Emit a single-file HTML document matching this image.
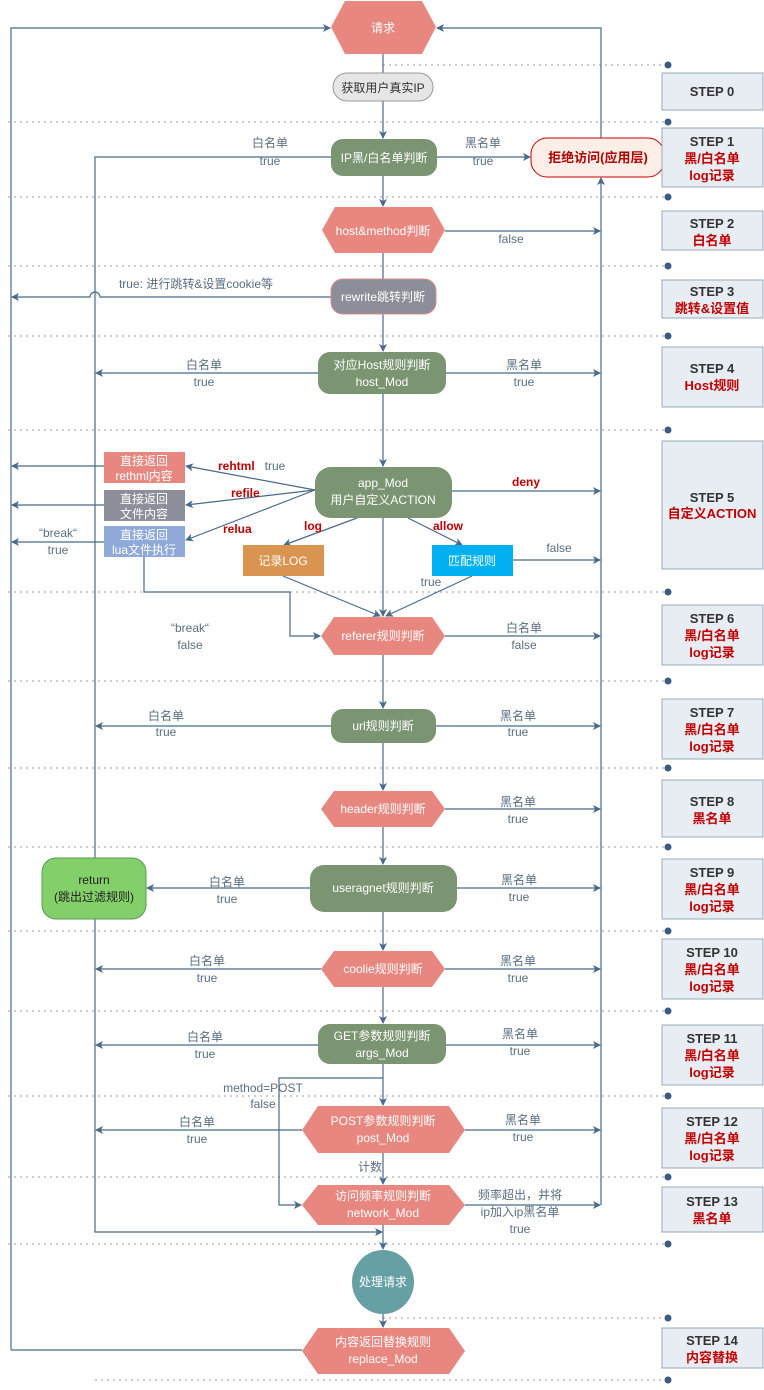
<!DOCTYPE html>
<html><head><meta charset="utf-8"><style>
html,body{margin:0;padding:0;background:#fff}
svg{display:block;font-family:"Liberation Sans","Noto Sans CJK SC",sans-serif}
.l{fill:#5a6e80;font-size:12px;text-anchor:middle}
.w{fill:#fff;font-size:12px;text-anchor:middle}
.r{fill:#c00000;font-size:12px;font-weight:bold}
.sh{fill:#333;font-size:13px;font-weight:bold;text-anchor:middle}
.sr{fill:#c00000;font-size:13px;font-weight:bold;text-anchor:middle}
</style></head><body>
<svg width="764" height="1390" viewBox="0 0 764 1390" xmlns="http://www.w3.org/2000/svg">
<defs><marker id="a" markerWidth="8" markerHeight="8" refX="7" refY="4" orient="auto" markerUnits="userSpaceOnUse"><path d="M0,0 L8,4 L0,8 L2,4 z" fill="#4a6a8a"/></marker></defs>
<g stroke="#99a" stroke-dasharray="2,4" stroke-width="1">
<line x1="383" y1="65" x2="668" y2="65"/><line x1="8" y1="122" x2="668" y2="122"/>
<line x1="8" y1="197" x2="668" y2="197"/><line x1="8" y1="266" x2="668" y2="266"/>
<line x1="8" y1="336" x2="668" y2="336"/><line x1="8" y1="430" x2="668" y2="430"/>
<line x1="8" y1="592" x2="668" y2="592"/><line x1="8" y1="681" x2="668" y2="681"/>
<line x1="8" y1="768" x2="668" y2="768"/><line x1="8" y1="847" x2="668" y2="847"/>
<line x1="8" y1="931" x2="668" y2="931"/><line x1="8" y1="1011" x2="668" y2="1011"/>
<line x1="8" y1="1096" x2="668" y2="1096"/><line x1="8" y1="1177" x2="668" y2="1177"/>
<line x1="8" y1="1244" x2="668" y2="1244"/><line x1="383" y1="1318" x2="668" y2="1318"/>
<line x1="95" y1="1380" x2="668" y2="1380"/>
</g>
<g fill="#3d5a80">
<circle cx="668" cy="65" r="3.5"/><circle cx="668" cy="122" r="3.5"/><circle cx="668" cy="197" r="3.5"/><circle cx="668" cy="266" r="3.5"/><circle cx="668" cy="336" r="3.5"/><circle cx="668" cy="430" r="3.5"/><circle cx="668" cy="592" r="3.5"/><circle cx="668" cy="681" r="3.5"/><circle cx="668" cy="768" r="3.5"/><circle cx="668" cy="847" r="3.5"/><circle cx="668" cy="931" r="3.5"/><circle cx="668" cy="1011" r="3.5"/><circle cx="668" cy="1096" r="3.5"/><circle cx="668" cy="1177" r="3.5"/><circle cx="668" cy="1244" r="3.5"/><circle cx="668" cy="1318" r="3.5"/><circle cx="668" cy="1380" r="3.5"/>
</g>
<g stroke="#4a6a8a" stroke-width="1.2" fill="none">
<path d="M11,1350 L11,28 L330,28" marker-end="url(#a)"/>
<path d="M601,138 L601,28 L437,28" marker-end="url(#a)"/>
<path d="M601,1205 L601,178" marker-end="url(#a)"/>
<path d="M383,54 L383,73"/><path d="M383,101 L383,138" marker-end="url(#a)"/>
<path d="M383,176 L383,206" marker-end="url(#a)"/><path d="M383,253 L383,279"/>
<path d="M383,314 L383,351" marker-end="url(#a)"/><path d="M383,394 L383,466" marker-end="url(#a)"/>
<path d="M383,518 L383,616" marker-end="url(#a)"/><path d="M383,655 L383,708" marker-end="url(#a)"/>
<path d="M383,743 L383,790" marker-end="url(#a)"/><path d="M383,827 L383,864" marker-end="url(#a)"/>
<path d="M383,912 L383,950" marker-end="url(#a)"/><path d="M383,987 L383,1023" marker-end="url(#a)"/>
<path d="M383,1064 L383,1105" marker-end="url(#a)"/><path d="M383,1153 L383,1184" marker-end="url(#a)"/>
<path d="M383,1225 L383,1249" marker-end="url(#a)"/><path d="M383,1313 L383,1327" marker-end="url(#a)"/>
<path d="M331,157 L95,157 L95,1232 L382,1232" marker-end="url(#a)"/>
<path d="M437,157 L530,157" marker-end="url(#a)"/>
<path d="M445,231 L600,231" marker-end="url(#a)"/>
<path d="M331,297 L100,297 A5,5 0 0 0 90,297 L12,297" marker-end="url(#a)"/>
<path d="M318,373 L96,373" marker-end="url(#a)"/><path d="M446,373 L600,373" marker-end="url(#a)"/>
<path d="M315,490 L186,466" marker-end="url(#a)"/><path d="M315,490 L186,505" marker-end="url(#a)"/>
<path d="M315,490 L186,540" marker-end="url(#a)"/><path d="M452,491 L600,491" marker-end="url(#a)"/>
<path d="M357,518 L284,545" marker-end="url(#a)"/><path d="M408,518 L462,545" marker-end="url(#a)"/>
<path d="M104,466 L12,466" marker-end="url(#a)"/><path d="M104,505 L12,505" marker-end="url(#a)"/>
<path d="M104,542 L12,542" marker-end="url(#a)"/>
<path d="M144,557 L144,592 L290,592 L290,636 L320,636" marker-end="url(#a)"/>
<path d="M283,576 L380,616" marker-end="url(#a)"/><path d="M472,576 L386,616" marker-end="url(#a)"/>
<path d="M513,560 L600,560" marker-end="url(#a)"/>
<path d="M445,636 L600,636" marker-end="url(#a)"/>
<path d="M331,726 L96,726" marker-end="url(#a)"/><path d="M436,726 L600,726" marker-end="url(#a)"/>
<path d="M445,809 L600,809" marker-end="url(#a)"/>
<path d="M310,888 L147,888" marker-end="url(#a)"/><path d="M457,888 L600,888" marker-end="url(#a)"/>
<path d="M321,969 L96,969" marker-end="url(#a)"/><path d="M445,969 L600,969" marker-end="url(#a)"/>
<path d="M318,1045 L96,1045" marker-end="url(#a)"/><path d="M446,1045 L600,1045" marker-end="url(#a)"/>
<path d="M383,1078 L279,1078 L279,1205 L301,1205" marker-end="url(#a)"/>
<path d="M302,1130 L96,1130" marker-end="url(#a)"/><path d="M465,1130 L600,1130" marker-end="url(#a)"/>
<path d="M465,1205 L600,1205" marker-end="url(#a)"/>
<path d="M302,1350 L11,1350"/>
</g>
<!-- nodes -->
<polygon points="331,27 345,1 422,1 436,27 422,54 345,54" fill="#e8877f"/>
<text class="w" x="383" y="32" font-size="13">请求</text>
<rect x="333" y="73" width="100" height="28" rx="14" fill="#e6e6e6" stroke="#999"/>
<text x="383" y="92" font-size="12" text-anchor="middle" fill="#333">获取用户真实IP</text>
<rect x="331" y="139" width="106" height="37" rx="12" fill="#7b9471"/>
<text class="w" x="384" y="162">IP黑/白名单判断</text>
<rect x="531" y="138" width="133" height="39" rx="16" fill="#fdeee8" stroke="#c00"/>
<text x="598" y="162" font-size="13" font-weight="bold" fill="#b00000" text-anchor="middle">拒绝访问(应用层)</text>
<polygon points="322,230 335,207 432,207 445,230 432,253 335,253" fill="#e8877f"/>
<text class="w" x="383" y="235">host&amp;method判断</text>
<rect x="331" y="279" width="105" height="35" rx="12" fill="#8c8f99" stroke="#d88"/>
<text class="w" x="383" y="301">rewrite跳转判断</text>
<rect x="318" y="352" width="128" height="42" rx="12" fill="#7b9471"/>
<text class="w" x="382" y="369">对应Host规则判断</text><text class="w" x="382" y="386">host_Mod</text>
<rect x="315" y="467" width="137" height="51" rx="16" fill="#7b9471"/>
<text class="w" x="383" y="487">app_Mod</text><text class="w" x="383" y="504">用户自定义ACTION</text>
<rect x="104" y="452" width="81" height="31" fill="#e8877f"/>
<text class="w" x="144" y="465">直接返回</text><text class="w" x="144" y="480">rethml内容</text>
<rect x="104" y="490" width="81" height="31" fill="#8c8f99"/>
<text class="w" x="144" y="503">直接返回</text><text class="w" x="144" y="518">文件内容</text>
<rect x="104" y="526" width="81" height="31" fill="#8fa9d8"/>
<text class="w" x="144" y="539">直接返回</text><text class="w" x="144" y="554">lua文件执行</text>
<rect x="243" y="545" width="81" height="31" fill="#d9944f"/>
<text class="w" x="283" y="565">记录LOG</text>
<rect x="432" y="545" width="81" height="31" fill="#00b0f0"/>
<text class="w" x="472" y="565">匹配规则</text>
<polygon points="321,636 334,617 432,617 445,636 432,655 334,655" fill="#e8877f"/>
<text class="w" x="383" y="640">referer规则判断</text>
<rect x="331" y="709" width="105" height="34" rx="12" fill="#7b9471"/>
<text class="w" x="383" y="730">url规则判断</text>
<polygon points="321,809 334,791 432,791 445,809 432,827 334,827" fill="#e8877f"/>
<text class="w" x="383" y="813">header规则判断</text>
<rect x="42" y="858" width="104" height="61" rx="14" fill="#83d06a" stroke="#5b9a55"/>
<text x="94" y="884" font-size="12" text-anchor="middle" fill="#222">return</text>
<text x="94" y="901" font-size="12" text-anchor="middle" fill="#222">(跳出过滤规则)</text>
<rect x="310" y="865" width="147" height="47" rx="14" fill="#7b9471"/>
<text class="w" x="383" y="892">useragnet规则判断</text>
<polygon points="321,969 334,951 432,951 445,969 432,987 334,987" fill="#e8877f"/>
<text class="w" x="383" y="973">coolie规则判断</text>
<rect x="318" y="1024" width="128" height="40" rx="12" fill="#7b9471"/>
<text class="w" x="382" y="1040">GET参数规则判断</text><text class="w" x="382" y="1057">args_Mod</text>
<polygon points="302,1130 318,1106 449,1106 465,1130 449,1153 318,1153" fill="#e8877f"/>
<text class="w" x="383" y="1125">POST参数规则判断</text><text class="w" x="383" y="1142">post_Mod</text>
<polygon points="302,1205 318,1185 449,1185 465,1205 449,1225 318,1225" fill="#e8877f"/>
<text class="w" x="383" y="1200">访问频率规则判断</text><text class="w" x="383" y="1217">network_Mod</text>
<ellipse cx="383" cy="1282" rx="31" ry="32" fill="#66a0a4"/>
<text class="w" x="383" y="1286">处理请求</text>
<polygon points="302,1351 318,1328 449,1328 465,1351 449,1374 318,1374" fill="#e8877f"/>
<text class="w" x="383" y="1346">内容返回替换规则</text><text class="w" x="383" y="1363">replace_Mod</text>
<!-- labels -->
<text class="l" x="270" y="147">白名单</text><text class="l" x="270" y="165">true</text>
<text class="l" x="483" y="147">黑名单</text><text class="l" x="483" y="165">true</text>
<text class="l" x="511" y="243">false</text>
<text class="l" x="196" y="288">true: 进行跳转&amp;设置cookie等</text>
<text class="l" x="204" y="369">白名单</text><text class="l" x="204" y="386">true</text>
<text class="l" x="524" y="369">黑名单</text><text class="l" x="524" y="386">true</text>
<text class="r" x="218" y="470">rehtml</text><text class="l" x="275" y="470">true</text>
<text class="r" x="231" y="497">refile</text>
<text class="r" x="223" y="533">relua</text>
<text class="r" x="512" y="486">deny</text>
<text class="r" x="304" y="530">log</text><text class="r" x="433" y="530">allow</text>
<text class="l" x="58" y="537">“break“</text><text class="l" x="58" y="554">true</text>
<text class="l" x="559" y="552">false</text><text class="l" x="431" y="586">true</text>
<text class="l" x="190" y="632">“break“</text><text class="l" x="190" y="649">false</text>
<text class="l" x="524" y="632">白名单</text><text class="l" x="524" y="649">false</text>
<text class="l" x="166" y="720">白名单</text><text class="l" x="166" y="736">true</text>
<text class="l" x="518" y="720">黑名单</text><text class="l" x="518" y="736">true</text>
<text class="l" x="518" y="806">黑名单</text><text class="l" x="518" y="823">true</text>
<text class="l" x="227" y="886">白名单</text><text class="l" x="227" y="903">true</text>
<text class="l" x="519" y="884">黑名单</text><text class="l" x="519" y="901">true</text>
<text class="l" x="207" y="965">白名单</text><text class="l" x="207" y="982">true</text>
<text class="l" x="518" y="965">黑名单</text><text class="l" x="518" y="982">true</text>
<text class="l" x="205" y="1041">白名单</text><text class="l" x="205" y="1058">true</text>
<text class="l" x="520" y="1038">黑名单</text><text class="l" x="520" y="1055">true</text>
<text class="l" x="263" y="1092">method=POST</text><text class="l" x="263" y="1108">false</text>
<text class="l" x="197" y="1126">白名单</text><text class="l" x="197" y="1143">true</text>
<text class="l" x="523" y="1124">黑名单</text><text class="l" x="523" y="1141">true</text>
<text class="l" x="370" y="1171">计数</text>
<text class="l" x="520" y="1199">频率超出，并将</text><text class="l" x="520" y="1216">ip加入ip黑名单</text><text class="l" x="520" y="1233">true</text>
<!-- steps -->
<g fill="#e8edf3" stroke="#9aabbb">
<rect x="662" y="73" width="101" height="37"/><rect x="662" y="128" width="101" height="59"/>
<rect x="662" y="211" width="101" height="39"/><rect x="662" y="280" width="101" height="38"/>
<rect x="662" y="347" width="101" height="60"/><rect x="662" y="441" width="101" height="128"/>
<rect x="662" y="605" width="101" height="60"/><rect x="662" y="699" width="101" height="60"/>
<rect x="662" y="780" width="101" height="57"/><rect x="662" y="859" width="101" height="60"/>
<rect x="662" y="939" width="101" height="60"/><rect x="662" y="1025" width="101" height="60"/>
<rect x="662" y="1108" width="101" height="60"/><rect x="662" y="1187" width="101" height="45"/>
<rect x="662" y="1328" width="101" height="40"/>
</g>
<text class="sh" x="712" y="96">STEP 0</text>
<text class="sh" x="712" y="146">STEP 1</text><text class="sr" x="712" y="163">黑/白名单</text><text class="sr" x="712" y="180">log记录</text>
<text class="sh" x="712" y="228">STEP 2</text><text class="sr" x="712" y="245">白名单</text>
<text class="sh" x="712" y="296">STEP 3</text><text class="sr" x="712" y="313">跳转&amp;设置值</text>
<text class="sh" x="712" y="373">STEP 4</text><text class="sr" x="712" y="390">Host规则</text>
<text class="sh" x="712" y="502">STEP 5</text><text class="sr" x="712" y="518">自定义ACTION</text>
<text class="sh" x="712" y="623">STEP 6</text><text class="sr" x="712" y="640">黑/白名单</text><text class="sr" x="712" y="657">log记录</text>
<text class="sh" x="712" y="717">STEP 7</text><text class="sr" x="712" y="734">黑/白名单</text><text class="sr" x="712" y="751">log记录</text>
<text class="sh" x="712" y="806">STEP 8</text><text class="sr" x="712" y="823">黑名单</text>
<text class="sh" x="712" y="877">STEP 9</text><text class="sr" x="712" y="894">黑/白名单</text><text class="sr" x="712" y="911">log记录</text>
<text class="sh" x="712" y="957">STEP 10</text><text class="sr" x="712" y="974">黑/白名单</text><text class="sr" x="712" y="991">log记录</text>
<text class="sh" x="712" y="1043">STEP 11</text><text class="sr" x="712" y="1060">黑/白名单</text><text class="sr" x="712" y="1077">log记录</text>
<text class="sh" x="712" y="1126">STEP 12</text><text class="sr" x="712" y="1143">黑/白名单</text><text class="sr" x="712" y="1160">log记录</text>
<text class="sh" x="712" y="1206">STEP 13</text><text class="sr" x="712" y="1223">黑名单</text>
<text class="sh" x="712" y="1345">STEP 14</text><text class="sr" x="712" y="1362">内容替换</text>
</svg>
</body></html>
